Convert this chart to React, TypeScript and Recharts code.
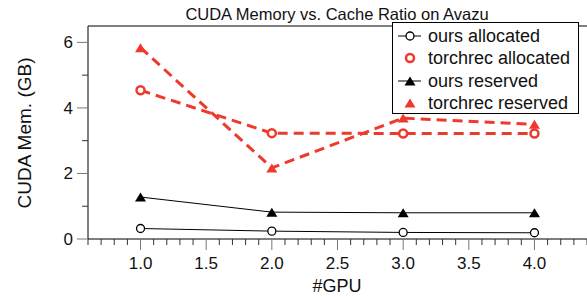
import { Legend, Line, LineChart, ReferenceLine, XAxis, YAxis } from "recharts";

const gpus = [1, 2, 3, 4];
const oursAllocated = [0.32, 0.24, 0.2, 0.19];
const torchrecAllocated = [4.54, 3.23, 3.22, 3.22];
const oursReserved = [1.28, 0.82, 0.8, 0.8];
const torchrecReserved = [5.84, 2.17, 3.69, 3.5];

const xMajorTicks = [1.0, 1.5, 2.0, 2.5, 3.0, 3.5, 4.0];
const yMajorTicks = [0, 2, 4, 6];
const yTicks = [0, 1, 2, 3, 4, 5, 6];

const RED = "#ee3a2c";
const FONT = "'Liberation Sans', Arial, Helvetica, sans-serif";

const data = gpus.map((g, i) => ({
  gpu: g,
  oursAllocated: oursAllocated[i],
  torchrecAllocated: torchrecAllocated[i],
  oursReserved: oursReserved[i],
  torchrecReserved: torchrecReserved[i],
}));

// minor ticks every 0.1 across the x domain
const xTicks = Array.from({ length: 39 }, (_, i) => Math.round((0.6 + i * 0.1) * 10) / 10);

const isMajorX = (v: number) => xMajorTicks.some((m) => Math.abs(m - v) < 1e-6);

function XTick({ x, y, payload }: any) {
  const major = isMajorX(payload.value);
  return (
    <g>
      <line x1={x} y1={y} x2={x} y2={y + (major ? 11 : 6)} stroke={major ? "#777" : "#333"} strokeWidth={1} />
      {major && (
        <text x={x} y={y + 29.5} textAnchor="middle" fontSize={17} fill="#111" fontFamily={FONT}>
          {payload.value.toFixed(1)}
        </text>
      )}
    </g>
  );
}

function YTick({ x, y, payload }: any) {
  const major = yMajorTicks.includes(payload.value);
  return (
    <g>
      <line x1={x} y1={y} x2={x - (major ? 11 : 6)} y2={y} stroke={major ? "#777" : "#333"} strokeWidth={1} />
      {major && (
        <text x={x - 15} y={y + 6} textAnchor="end" fontSize={17} fill="#111" fontFamily={FONT}>
          {payload.value}
        </text>
      )}
    </g>
  );
}

const triangle = (cx: number, cy: number, w: number, h: number) =>
  `M${cx},${cy - h / 2} L${cx + w / 2},${cy + h / 2} L${cx - w / 2},${cy + h / 2} Z`;

function OpenCircle({ cx, cy, color, sw }: any) {
  return <circle cx={cx} cy={cy} r={4} fill="#fff" stroke={color} strokeWidth={sw} />;
}

function Tri({ cx, cy, color }: any) {
  return <path d={triangle(cx, cy, 11, 9)} fill={color} stroke="none" />;
}

const legendRows = [
  { key: "oursAllocated", label: "ours allocated", color: "#000", line: true, marker: "circle", sw: 1.3 },
  { key: "torchrecAllocated", label: "torchrec allocated", color: RED, line: false, marker: "circle", sw: 2.5 },
  { key: "oursReserved", label: "ours reserved", color: "#000", line: true, marker: "tri", sw: 1 },
  { key: "torchrecReserved", label: "torchrec reserved", color: RED, line: false, marker: "tri", sw: 1 },
];

function LegendBox() {
  return (
    <div
      style={{
        border: "1px solid #000",
        background: "#fff",
        boxSizing: "border-box",
        width: 187,
        height: 92,
        paddingTop: 2,
        fontFamily: FONT,
        fontSize: 18,
        color: "#111",
      }}
    >
      {legendRows.map((r) => (
        <div key={r.key} style={{ display: "flex", alignItems: "center", height: 22.3 }}>
          <svg width={35} height={22} style={{ flexShrink: 0 }}>
            {r.line && <line x1={5} x2={28} y1={11} y2={11} stroke={r.color} strokeWidth={1} />}
            {r.marker === "circle" ? (
              <circle cx={17} cy={11} r={4} fill="#fff" stroke={r.color} strokeWidth={r.sw} />
            ) : (
              <path d={triangle(17, 11, 11, 9)} fill={r.color} />
            )}
          </svg>
          <span style={{ whiteSpace: "nowrap", lineHeight: "22px" }}>{r.label}</span>
        </div>
      ))}
    </div>
  );
}

export default function App() {
  return (
    <div style={{ position: "relative", width: 587, height: 297, background: "#fff" }}>
      <style>{`body{margin:0;background:#fff}`}</style>
      <LineChart width={587} height={297} data={data} margin={{ top: 26, right: 0, bottom: 0, left: 0 }}>
        <XAxis
          dataKey="gpu"
          type="number"
          domain={[0.6, 4.4]}
          ticks={xTicks}
          interval={0}
          allowDataOverflow
          height={58}
          tickSize={0}
          tickMargin={0}
          tickLine={false}
          axisLine={{ stroke: "#000", strokeWidth: 1 }}
          tick={<XTick />}
        />
        <YAxis
          type="number"
          domain={[0, 6.5]}
          ticks={yTicks}
          interval={0}
          allowDataOverflow
          width={88}
          tickSize={0}
          tickMargin={0}
          tickLine={false}
          axisLine={{ stroke: "#000", strokeWidth: 1 }}
          tick={<YTick />}
        />
        <ReferenceLine y={6.5} stroke="#000" strokeWidth={1} />
        <Line
          dataKey="oursAllocated"
          stroke="#000"
          strokeWidth={1}
          isAnimationActive={false}
          dot={(p: any) => <OpenCircle key={p.index} cx={p.cx} cy={p.cy} color="#000" sw={1.3} />}
          activeDot={false}
        />
        <Line
          dataKey="torchrecAllocated"
          stroke={RED}
          strokeWidth={3}
          strokeDasharray="10 6"
          isAnimationActive={false}
          dot={(p: any) => <OpenCircle key={p.index} cx={p.cx} cy={p.cy} color={RED} sw={2.5} />}
          activeDot={false}
        />
        <Line
          dataKey="oursReserved"
          stroke="#000"
          strokeWidth={1}
          isAnimationActive={false}
          dot={(p: any) => <Tri key={p.index} cx={p.cx} cy={p.cy} color="#000" />}
          activeDot={false}
        />
        <Line
          dataKey="torchrecReserved"
          stroke={RED}
          strokeWidth={3}
          strokeDasharray="10 6"
          isAnimationActive={false}
          dot={(p: any) => <Tri key={p.index} cx={p.cx} cy={p.cy} color={RED} />}
          activeDot={false}
        />
        <Legend
          layout="vertical"
          align="center"
          verticalAlign="middle"
          wrapperStyle={{ left: 392, top: 22, width: 187, height: 92 }}
          content={() => <LegendBox />}
        />
      </LineChart>
      <svg
        width={587}
        height={297}
        style={{ position: "absolute", left: 0, top: 0, pointerEvents: "none" }}
        fontFamily={FONT}
      >
        <text x={337} y={20} textAnchor="middle" fontSize={16.5} fill="#111">
          CUDA Memory vs. Cache Ratio on Avazu
        </text>
        <text x={337} y={291.5} textAnchor="middle" fontSize={18} fill="#111">
          #GPU
        </text>
        <text
          x={24}
          y={133}
          textAnchor="middle"
          dominantBaseline="central"
          fontSize={19}
          fill="#111"
          transform="rotate(-90 24 133)"
        >
          CUDA Mem. (GB)
        </text>
      </svg>
    </div>
  );
}
